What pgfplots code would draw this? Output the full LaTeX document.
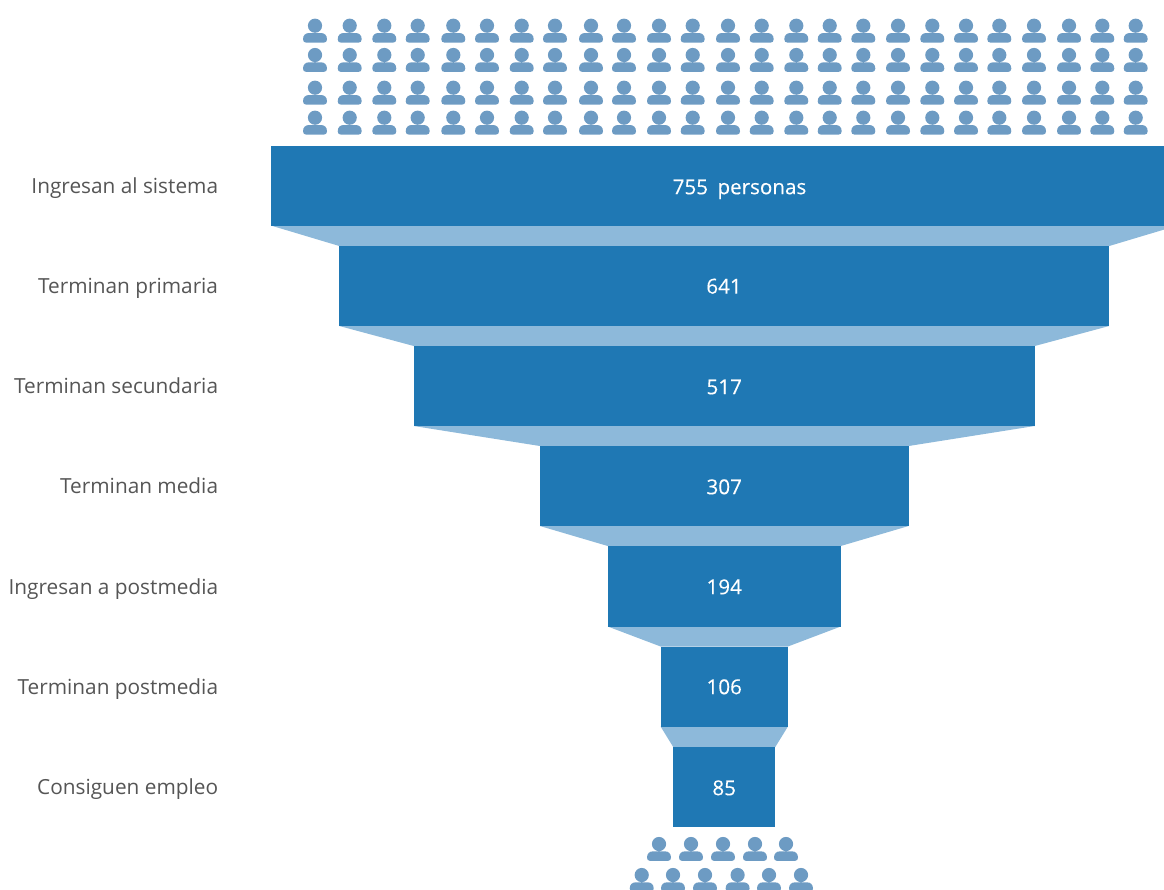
\documentclass[border=0pt]{standalone}
\usepackage{pgfplots}
\usepackage{pgfplotstable}
\usepackage{fontspec}
\setmainfont{Open Sans}
\newfontfamily\valuefont[FakeBold=0.25]{Open Sans}
\pgfplotsset{compat=1.18}

\definecolor{barblue}{HTML}{1F78B4}
\definecolor{linkblue}{HTML}{8DB9DA}
\definecolor{iconblue}{HTML}{6D9BC3}
\definecolor{labelgray}{HTML}{555555}

% Person pictogram; the origin sits at the centre of the head.
\pgfdeclareplotmark{person}{%
  \pgfpathcircle{\pgfpoint{0pt}{0pt}}{7.1pt}%
  \pgfpathmoveto{\pgfpoint{-12pt}{-13.6pt}}%
  \pgfpathcurveto{\pgfpoint{-12pt}{-9.4pt}}{\pgfpoint{-9.4pt}{-7.3pt}}{\pgfpoint{-5.8pt}{-7.3pt}}%
  \pgfpathlineto{\pgfpoint{5.8pt}{-7.3pt}}%
  \pgfpathcurveto{\pgfpoint{9.4pt}{-7.3pt}}{\pgfpoint{12pt}{-9.4pt}}{\pgfpoint{12pt}{-13.6pt}}%
  \pgfpathcurveto{\pgfpoint{12pt}{-15.8pt}}{\pgfpoint{10.8pt}{-16.9pt}}{\pgfpoint{8.8pt}{-16.9pt}}%
  \pgfpathlineto{\pgfpoint{-8.8pt}{-16.9pt}}%
  \pgfpathcurveto{\pgfpoint{-10.8pt}{-16.9pt}}{\pgfpoint{-12pt}{-15.8pt}}{\pgfpoint{-12pt}{-13.6pt}}%
  \pgfpathclose
  \pgfusepathqfill
}

% Pictogram positions above the funnel: one x column, one y column per row.
\pgfplotstableread{
x      r1    r2    r3    r4
315.0  25.7  55.0  87.7  117.7
349.7  25.7  55.0  87.7  117.7
384.3  25.7  55.0  87.7  117.7
417.7  25.7  55.0  87.7  117.7
453.3  25.7  55.0  87.7  117.7
487.0  25.7  55.0  87.7  117.7
521.7  25.7  55.0  87.7  117.7
555.0  25.7  55.0  87.7  117.7
591.0  25.7  55.0  87.7  117.7
624.0  25.7  55.0  87.7  117.7
659.0  25.7  55.0  87.7  117.7
692.7  25.7  55.0  87.7  117.7
728.0  25.7  55.0  87.7  117.7
761.7  25.7  55.0  87.7  117.7
796.3  25.7  55.0  87.7  117.7
829.7  25.7  55.0  87.7  117.7
863.3  25.7  55.0  87.7  117.7
898.0  25.7  55.0  87.7  117.7
932.3  25.7  55.0  87.7  117.7
966.0  25.7  55.0  87.7  117.7
999.3  25.7  55.0  87.7  117.7
1034.0 25.7  55.0  87.7  117.7
1069.0 25.7  55.0  87.7  117.7
1102.3 25.7  55.0  87.7  117.7
1135.7 25.7  55.0  87.7  117.7
}\toppeople

\begin{document}
\begin{tikzpicture}
% Funnel: x is in persons around the centre line, y runs down the page.
\begin{axis}[
  name=funnel, at={(0pt,0pt)}, anchor=south west,
  scale only axis, width=1164pt, height=889pt,
  hide axis, xmin=-602.95, xmax=366.05, ymin=0, ymax=889, y dir=reverse,
  clip=true,
]
\addplot[draw=none, fill=linkblue] coordinates {(-377.5,225.5) (377.5,225.5) (320.5,246) (-320.5,246)} -- cycle;
\addplot[draw=none, fill=linkblue] coordinates {(-320.5,326) (320.5,326) (258.5,346) (-258.5,346)} -- cycle;
\addplot[draw=none, fill=linkblue] coordinates {(-258.5,426) (258.5,426) (153.5,446) (-153.5,446)} -- cycle;
\addplot[draw=none, fill=linkblue] coordinates {(-153.5,526) (153.5,526) (97,546) (-97,546)} -- cycle;
\addplot[draw=none, fill=linkblue] coordinates {(-97,626.5) (97,626.5) (53,646.5) (-53,646.5)} -- cycle;
\addplot[draw=none, fill=linkblue] coordinates {(-53,726.5) (53,726.5) (42.5,747) (-42.5,747)} -- cycle;

\addplot[draw=none, fill=barblue] coordinates {(-377.5,146) (377.5,146) (377.5,225.5) (-377.5,225.5)} -- cycle;
\addplot[draw=none, fill=barblue] coordinates {(-320.5,246) (320.5,246) (320.5,326) (-320.5,326)} -- cycle;
\addplot[draw=none, fill=barblue] coordinates {(-258.5,346) (258.5,346) (258.5,426) (-258.5,426)} -- cycle;
\addplot[draw=none, fill=barblue] coordinates {(-153.5,446) (153.5,446) (153.5,526) (-153.5,526)} -- cycle;
\addplot[draw=none, fill=barblue] coordinates {(-97,546) (97,546) (97,626.5) (-97,626.5)} -- cycle;
\addplot[draw=none, fill=barblue] coordinates {(-53,646.5) (53,646.5) (53,726.5) (-53,726.5)} -- cycle;
\addplot[draw=none, fill=barblue] coordinates {(-42.5,747) (42.5,747) (42.5,826.5) (-42.5,826.5)} -- cycle;
\end{axis}

% Labels and pictograms, placed in page units.
\begin{axis}[
  at={(0pt,0pt)}, anchor=south west,
  scale only axis, width=1164pt, height=889pt,
  hide axis, xmin=0, xmax=1164, ymin=0, ymax=889, y dir=reverse,
  clip=true, clip marker paths=true,
]
\addplot[only marks, mark=person, color=iconblue] table[x=x, y=r1] {\toppeople};
\addplot[only marks, mark=person, color=iconblue] table[x=x, y=r2] {\toppeople};
\addplot[only marks, mark=person, color=iconblue] table[x=x, y=r3] {\toppeople};
\addplot[only marks, mark=person, color=iconblue] table[x=x, y=r4] {\toppeople};
\addplot[only marks, mark=person, color=iconblue] coordinates {
  (659,844) (691,844) (723,844) (755,844) (786,844)
  (641.7,875) (673,875) (705,875) (737.6,875) (769,875) (801,875)};

\begin{scope}[every node/.style={font=\fontsize{20.8}{25}\selectfont, text=labelgray, anchor=base east, inner sep=0pt}]
\node at (axis cs:218.3,193.2) {Ingresan al sistema};
\node at (axis cs:218.3,293.2) {Terminan primaria};
\node at (axis cs:218.3,393.2) {Terminan secundaria};
\node at (axis cs:218.3,493.2) {Terminan media};
\node at (axis cs:218.3,594.2) {Ingresan a postmedia};
\node at (axis cs:218.3,694.2) {Terminan postmedia};
\node at (axis cs:218.3,794.2) {Consiguen empleo};
\end{scope}
\begin{scope}[every node/.style={font=\valuefont\fontsize{20.6}{25}\selectfont, text=white, anchor=base, inner sep=0pt}]
\node at (axis cs:739.5,194.2) {755\hspace{0.2em} personas};
\node at (axis cs:724,293.6) {641};
\node at (axis cs:724.2,394.2) {517};
\node at (axis cs:724.2,494.2) {307};
\node at (axis cs:724.2,594.2) {194};
\node at (axis cs:724.2,694.2) {106};
\node at (axis cs:724.2,795.2) {85};
\end{scope}
\end{axis}
\pgfresetboundingbox
\path[use as bounding box] (0pt,0pt) rectangle (1164pt,889pt);
\end{tikzpicture}
\end{document}
